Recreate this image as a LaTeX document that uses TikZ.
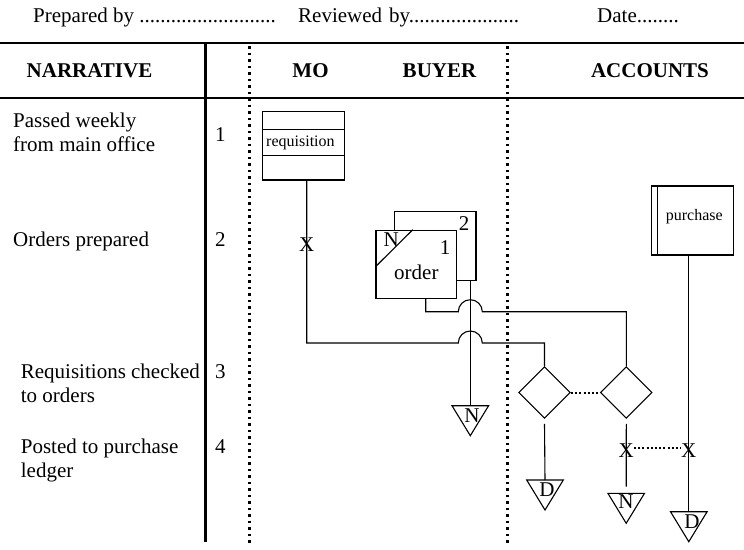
\documentclass[tikz,border=0pt]{standalone}
\usepackage{fontspec}
\setmainfont{Liberation Serif}
\usetikzlibrary{shapes.geometric,calc}
\newcommand\bigf{\fontsize{21}{24}\selectfont}
\newcommand\smallf{\fontsize{16}{18}\selectfont}
\tikzset{
  txt/.style={inner sep=0pt, font=\bigf},
  btxt/.style={inner sep=0pt, font=\bigf\bfseries},
  stxt/.style={inner sep=0pt, font=\smallf},
  wire/.style={line width=1.1pt},
  docbox/.style={draw, line width=1.1pt, inner sep=0pt, fill=white},
  dia/.style={draw, diamond, aspect=1, line width=1.1pt, inner sep=0pt, minimum width=51.7pt, minimum height=51.7pt},
  lane/.style={line width=2.6pt, dash pattern=on 2.6pt off 3.9pt},
  link/.style={line width=2pt, dash pattern=on 2pt off 2.2pt},
  rulel/.style={line width=2.8pt},
  tri/.pic={\draw[line width=1.1pt] (-18.3,0) -- (18.3,0) -- (0,30) -- cycle;}
}
\begin{document}
\begin{tikzpicture}[x=1pt,y=-1pt]
\useasboundingbox (0,0) rectangle (744,549);
% header
\node[txt, anchor=base west] (prep) at (33,22) {Prepared by ..........................};
\node[txt, anchor=base west] (rev) at (298,22) {Reviewed\hspace{7pt}by.....................};
\node[txt, anchor=base west] (date) at (597,22) {Date........};
\draw[rulel] (0,43) -- (744,43);
\draw[rulel] (0,98) -- (744,98);
\node[btxt, anchor=base] (hnar) at (89.5,77) {NARRATIVE};
\node[btxt, anchor=base] (hmo) at (310.5,77) {MO};
\node[btxt, anchor=base] (hbuy) at (439.5,77) {BUYER};
\node[btxt, anchor=base] (hacc) at (650,77) {ACCOUNTS};
% column lines
\draw[line width=2.6pt] (205.5,43) -- (205.5,542);
\draw[lane] (249.5,46) -- (249.5,546);
\draw[lane] (507.5,46) -- (507.5,546);
% narrative
\node[txt, anchor=base west] (n1a) at (13,127) {Passed weekly};
\node[txt, anchor=base west] (n1b) at (13,151.5) {from main office};
\node[txt, anchor=base west] (s1) at (215,141) {1};
\node[txt, anchor=base west] (n2) at (13,246.7) {Orders prepared};
\node[txt, anchor=base west] (s2) at (215,246.7) {2};
\node[txt, anchor=base west] (n3a) at (20.7,378) {Requisitions checked};
\node[txt, anchor=base west] (n3b) at (20.7,402) {to orders};
\node[txt, anchor=base west] (s3) at (215,378) {3};
\node[txt, anchor=base west] (n4a) at (20.7,453) {Posted to purchase};
\node[txt, anchor=base west] (n4b) at (20.7,477) {ledger};
\node[txt, anchor=base west] (s4) at (215,453) {4};
% requisition
\node[docbox, minimum width=81.6pt, minimum height=68.3pt] (req) at (303.5,145.85) {};
\draw[wire] (req.west |- 0,129.3) -- (req.east |- 0,129.3);
\draw[wire] (req.west |- 0,155.7) -- (req.east |- 0,155.7);
\node[stxt, anchor=base west] (reqt) at (266,146.7) {requisition};
% orders
\node[docbox, minimum width=81.7pt, minimum height=69pt] (ord2) at (435.15,246.2) {};
\node[docbox, minimum width=80.7pt, minimum height=68pt] (ord1) at (416.35,264.3) {};
\draw[wire] ($(ord1.north west)+(0,37)$) -- ($(ord1.north west)+(37.3,0)$);
\node[txt, anchor=base] (ordN) at (391.3,246.7) {N};
\node[txt, anchor=base] (ord1n) at (445,254) {1};
\node[txt, anchor=base] (ord2n) at (464,230) {2};
\node[txt, anchor=base west] (ordt) at (394,279.3) {order};
% purchase
\node[docbox, minimum width=81.6pt, minimum height=69pt] (pur) at (692.5,220.5) {};
\draw[wire] (657.3,0 |- pur.north) -- (657.3,0 |- pur.south);
\node[stxt, anchor=base west] (purt) at (665.7,220.7) {purchase};
% diamonds
\node[dia] (d1) at (544.5,392.5) {};
\node[dia] (d2) at (626.3,392.5) {};
% triangles
\coordinate (tn1top) at (470.3,405.7);
\coordinate (td1top) at (545,480);
\coordinate (tn2top) at (626.2,493.3);
\coordinate (td2top) at (688.8,511.7);
\pic at (tn1top) {tri};
\pic at (td1top) {tri};
\pic at (tn2top) {tri};
\pic at (td2top) {tri};
\node[txt] (tn1t) at (472,416) {N};
\node[txt] (td1t) at (547,490) {D};
\node[txt] (tn2t) at (626,502) {N};
\node[txt] (td2t) at (692,522) {D};
% X marks
\node[txt] (xa) at (306.7,245) {X};
\node[txt] (xb) at (626.3,451) {X};
\node[txt] (xc) at (688.8,451) {X};
% connectors
\draw[wire] (tn1top |- ord2.south) -- (tn1top);
\draw[wire] ($(req.south)+(3.2,0)$) |- (458.3,343) arc[start angle=180,end angle=0,radius=12pt] -| (d1.north);
\draw[wire] ($(ord1.south)+(9.35,0)$) |- (458.3,311.7) arc[start angle=180,end angle=0,radius=12pt] -| (d2.north);
\draw[wire] ([yshift=-5pt]d1.south) -- (td1top);
\draw[wire] ([yshift=-5pt]d2.south) -- ([yshift=6.6pt]tn2top);
\draw[wire] (td2top |- pur.south) -- (td2top);
\draw[link] (d1.east) -- (d2.west);
\draw[link] ([yshift=3pt]xb.east) -- ([yshift=3pt]xc.west);
\end{tikzpicture}
\end{document}
